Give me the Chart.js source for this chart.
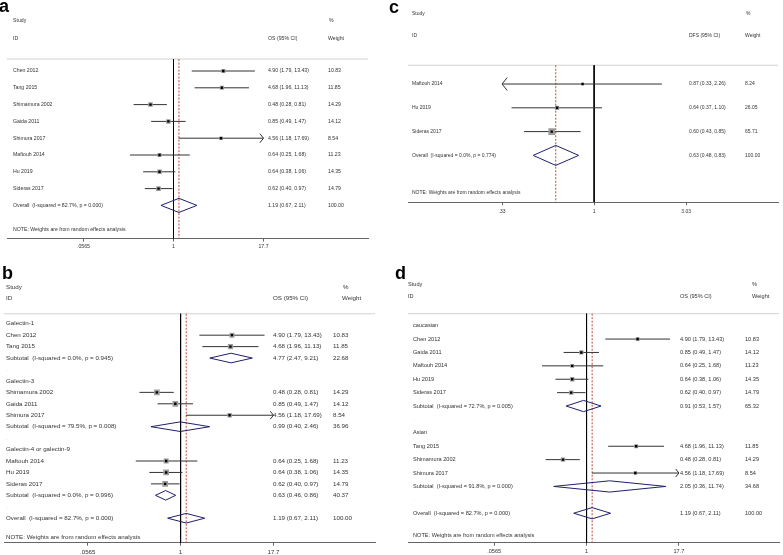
<!DOCTYPE html>
<html>
<head>
<meta charset="utf-8">
<title>Galectin forest plots</title>
<script src="https://cdn.jsdelivr.net/npm/chart.js@4.4.1/dist/chart.umd.min.js"></script>
<style>
  body { margin: 0; background: #fff; }
  #page { position: relative; width: 783px; height: 555px; overflow: hidden; background: #fff; }
  canvas { position: absolute; }
  .tag { position: absolute; font: bold 18px/18px "Liberation Sans", Arial, sans-serif; color: #000; }
</style>
</head>
<body>
<div id="page">
  <canvas id="forestA" width="390" height="256" style="left:0px;top:0px"></canvas>
  <canvas id="forestB" width="390" height="279" style="left:0px;top:276px"></canvas>
  <canvas id="forestC" width="393" height="222" style="left:390px;top:0px"></canvas>
  <canvas id="forestD" width="393" height="279" style="left:390px;top:276px"></canvas>
  <div class="tag" style="left:-1px;top:-3px">a</div>
  <div class="tag" style="left:2px;top:264px">b</div>
  <div class="tag" style="left:389px;top:-2px">c</div>
  <div class="tag" style="left:395px;top:264px">d</div>
</div>
<script>
// tick values on the (log) effect axis
const ticksOS = [0.0565, 1, 17.7];
const tickLabelsOS = ['.0565', '1', '17.7'];
const ticksDFS = [0.33, 1, 3.03];
const tickLabelsDFS = ['.33', '1', '3.03'];

// a: OS, all studies
const labelsA = ['Chen 2012', 'Tang 2015', 'Shimamura 2002', 'Gaida 2011', 'Shimura 2017', 'Maftouh 2014', 'Hu 2019', 'Sideras 2017',
  'Overall  (I-squared = 82.7%, p = 0.000)'];
const kindA = ['s', 's', 's', 's', 's', 's', 's', 's', 'o'];
const estA = [4.90, 4.68, 0.48, 0.85, 4.56, 0.64, 0.64, 0.62, 1.19];
const lowA = [1.79, 1.96, 0.28, 0.49, 1.18, 0.25, 0.38, 0.40, 0.67];
const highA = [13.43, 11.13, 0.81, 1.47, 17.69, 1.68, 1.06, 0.97, 2.11];
const weightA = [10.83, 11.85, 14.29, 14.12, 8.54, 11.23, 14.35, 14.79, 100.00];

// b: OS by galectin type
const labelsB = ['Galectin-1', 'Chen 2012', 'Tang 2015', 'Subtotal  (I-squared = 0.0%, p = 0.945)', '.',
  'Galectin-3', 'Shimamura 2002', 'Gaida 2011', 'Shimura 2017', 'Subtotal  (I-squared = 79.5%, p = 0.008)', '.',
  'Galectin-4 or galectin-9', 'Maftouh 2014', 'Hu 2019', 'Sideras 2017', 'Subtotal  (I-squared = 0.0%, p = 0.996)', '.',
  'Overall  (I-squared = 82.7%, p = 0.000)'];
const kindB = ['g', 's', 's', 't', 'b', 'g', 's', 's', 's', 't', 'b', 'g', 's', 's', 's', 't', 'b', 'o'];
const estB = [null, 4.90, 4.68, 4.77, null, null, 0.48, 0.85, 4.56, 0.99, null, null, 0.64, 0.64, 0.62, 0.63, null, 1.19];
const lowB = [null, 1.79, 1.96, 2.47, null, null, 0.28, 0.49, 1.18, 0.40, null, null, 0.25, 0.38, 0.40, 0.46, null, 0.67];
const highB = [null, 13.43, 11.13, 9.21, null, null, 0.81, 1.47, 17.69, 2.46, null, null, 1.68, 1.06, 0.97, 0.86, null, 2.11];
const weightB = [null, 10.83, 11.85, 22.68, null, null, 14.29, 14.12, 8.54, 36.96, null, null, 11.23, 14.35, 14.79, 40.37, null, 100.00];

// c: DFS
const labelsC = ['Maftouh 2014', 'Hu 2019', 'Sideras 2017', 'Overall  (I-squared = 0.0%, p = 0.774)'];
const kindC = ['s', 's', 's', 'o'];
const estC = [0.87, 0.64, 0.60, 0.63];
const lowC = [0.33, 0.37, 0.43, 0.48];
const highC = [2.26, 1.10, 0.85, 0.83];
const weightC = [8.24, 26.05, 65.71, 100.00];

// d: OS by ethnicity
const labelsD = ['caucasian', 'Chen 2012', 'Gaida 2011', 'Maftouh 2014', 'Hu 2019', 'Sideras 2017',
  'Subtotal  (I-squared = 72.7%, p = 0.005)', '.',
  'Asian', 'Tang 2015', 'Shimamura 2002', 'Shimura 2017', 'Subtotal  (I-squared = 91.8%, p = 0.000)', '.',
  'Overall  (I-squared = 82.7%, p = 0.000)'];
const kindD = ['g', 's', 's', 's', 's', 's', 't', 'b', 'g', 's', 's', 's', 't', 'b', 'o'];
const estD = [null, 4.90, 0.85, 0.64, 0.64, 0.62, 0.91, null, null, 4.68, 0.48, 4.56, 2.05, null, 1.19];
const lowD = [null, 1.79, 0.49, 0.25, 0.38, 0.40, 0.53, null, null, 1.96, 0.28, 1.18, 0.36, null, 0.67];
const highD = [null, 13.43, 1.47, 1.68, 1.06, 0.97, 1.57, null, null, 11.13, 0.81, 17.69, 11.74, null, 2.11];
const weightD = [null, 10.83, 14.12, 11.23, 14.35, 14.79, 65.32, null, null, 11.85, 14.29, 8.54, 34.68, null, 100.00];

// page geometry of each panel (absolute px), rows spaced by `step`
const geomA = { left: 0, top: 0, width: 390, height: 256, areaL: 7, areaR: 368, areaT: 5, areaB: 238.5, axisH: 15, tickPad: 2.4,
  one: 173.5, ppl: 31.33, row0: 71, step: 16.8, font: 5.2, hdrX: 13, colName: 13, colEst: 268, colW: 328, colPct: 329, colWeight: 328,
  hdrStudy: -2.98, hdrID: -1.96, rule: -0.71, note: 9.46, boxK: 1.2 };
const geomB = { left: 0, top: 276, width: 390, height: 279, areaL: 2, areaR: 375, areaT: 278, areaB: 542.7, axisH: 12, tickPad: 2.6,
  one: 179.5, ppl: 32.5, row0: 322, step: 11.53, font: 6.2, hdrX: 6, colName: 6, colEst: 273, colW: 333, colPct: 343, colWeight: 342,
  hdrStudy: -3.21, hdrID: -2.19, rule: -0.87, note: 18.65, boxK: 1.5 };
const geomC = { left: 390, top: 0, width: 393, height: 222, areaL: 408, areaR: 782, areaT: 3, areaB: 202.3, axisH: 14, tickPad: 3,
  one: 596, ppl: 83.9, row0: 83, step: 24, font: 5.0, hdrX: 412, colName: 412, colEst: 689, colW: 745, colPct: 746, colWeight: 745,
  hdrStudy: -2.96, hdrID: -2.04, rule: -0.79, note: 4.58, boxK: 0.82 };
const geomD = { left: 390, top: 276, width: 393, height: 279, areaL: 408, areaR: 782, areaT: 278, areaB: 542.7, axisH: 12, tickPad: 2.6,
  one: 588, ppl: 32.4, row0: 324, step: 13.5, font: 5.6, hdrX: 408, colName: 413, colEst: 680, colW: 745, colPct: 752, colWeight: 752,
  hdrStudy: -3.07, hdrID: -2.15, rule: -0.89, note: 15.63, boxK: 1.15 };

const FONT = '"Liberation Sans", Arial, sans-serif';
const fmt = v => v.toFixed(2);

// text columns + clipped-CI arrows
const forestText = {
  id: 'forestText',
  afterDatasetsDraw(chart, args, opts) {
    const { ctx } = chart;
    const { x, y } = chart.scales;
    const g = opts.geom, d = opts.data;
    const rowY = r => y.getPixelForValue(r);
    const colX = px => px - g.left;
    ctx.save();
    ctx.font = g.font + 'px ' + FONT;
    ctx.textBaseline = 'middle';
    ctx.textAlign = 'left';
    ctx.fillStyle = '#333';
    ctx.fillText('Study', colX(g.hdrX), rowY(g.hdrStudy));
    ctx.fillText('ID', colX(g.hdrX), rowY(g.hdrID));
    ctx.fillText('%', colX(g.colPct), rowY(g.hdrStudy));
    ctx.fillText('Weight', colX(g.colWeight), rowY(g.hdrID));
    ctx.fillText(d.measure + ' (95% CI)', colX(g.colEst), rowY(g.hdrID));
    d.labels.forEach((lab, i) => {
      const py = rowY(i);
      ctx.fillStyle = d.kind[i] === 'b' ? '#bbb' : '#333';
      ctx.fillText(lab, colX(g.colName), py);
      if (d.est[i] != null) {
        ctx.fillText(fmt(d.est[i]) + ' (' + fmt(d.low[i]) + ', ' + fmt(d.high[i]) + ')', colX(g.colEst), py);
        ctx.fillText(fmt(d.weight[i]), colX(g.colW), py);
      }
    });
    ctx.fillStyle = '#333';
    ctx.fillText('NOTE: Weights are from random effects analysis', colX(g.colName), rowY(g.note));

    // arrow heads where a CI runs to the end of the plotted range
    const tMin = d.ticks[0], tMax = d.ticks[d.ticks.length - 1];
    const hh = Math.max(4, g.step * 0.27), aw = hh * 0.8;
    ctx.strokeStyle = '#333';
    ctx.lineWidth = 1;
    d.kind.forEach((k, i) => {
      if (k !== 's') return;
      const py = rowY(i);
      if (d.high[i] >= tMax * 0.999) {
        const px = x.getPixelForValue(tMax);
        ctx.beginPath();
        ctx.moveTo(px - aw, py - hh); ctx.lineTo(px, py); ctx.lineTo(px - aw, py + hh);
        ctx.stroke();
      }
      if (d.low[i] <= tMin * 1.001) {
        const px = x.getPixelForValue(tMin);
        ctx.beginPath();
        ctx.moveTo(px + aw, py - hh); ctx.lineTo(px, py); ctx.lineTo(px + aw, py + hh);
        ctx.stroke();
      }
    });
    ctx.restore();
  }
};

function makeForest(id, g, d) {
  const xMin = Math.exp((g.areaL - g.one) / g.ppl);
  const xMax = Math.exp((g.areaR - g.one) / g.ppl);
  const yMin = (g.areaT - g.row0) / g.step;
  const yMax = (g.areaB - g.row0) / g.step;
  const overall = d.est[d.kind.indexOf('o')];

  const ci = [], boxes = [], boxR = [], dots = [], diamonds = [];
  d.kind.forEach((k, i) => {
    if (k === 's') {
      ci.push({ x: d.low[i], y: i }, { x: d.high[i], y: i }, { x: d.est[i], y: null });
      boxes.push({ x: d.est[i], y: i });
      boxR.push(g.boxK * Math.sqrt(d.weight[i]) / Math.SQRT2);
      dots.push({ x: d.est[i], y: i });
    } else if (k === 't' || k === 'o') {
      const h = 0.42;
      diamonds.push({ x: d.low[i], y: i }, { x: d.est[i], y: i - h }, { x: d.high[i], y: i },
        { x: d.est[i], y: i + h }, { x: d.low[i], y: i }, { x: d.est[i], y: null });
    }
  });

  return new Chart(document.getElementById(id), {
    type: 'scatter',
    data: {
      datasets: [
        { data: diamonds, showLine: true, borderColor: '#1f1f6e', borderWidth: 1, pointRadius: 0, fill: false, order: 1 },
        { data: dots, backgroundColor: '#000', borderWidth: 0, pointStyle: 'rect', pointRadius: 1.7, order: 2 },
        { data: boxes, backgroundColor: '#9c9c9c', borderWidth: 0, pointStyle: 'rect', pointRadius: boxR, order: 3 },
        { data: ci, showLine: true, borderColor: '#333', borderWidth: 1, pointRadius: 0, order: 4 },
        { data: [{ x: overall, y: g.rule }, { x: overall, y: yMax }], showLine: true, borderColor: '#c0483f',
          borderWidth: 1, borderDash: [2, 1.5], pointRadius: 0, order: 5 },
        { data: [{ x: 1, y: g.rule }, { x: 1, y: yMax }], showLine: true, borderColor: '#000', borderWidth: 1, pointRadius: 0, order: 6 },
        { data: [{ x: xMin, y: g.rule }, { x: xMax, y: g.rule }], showLine: true, borderColor: '#d2d2d2', borderWidth: 1, pointRadius: 0, order: 7 }
      ]
    },
    options: {
      responsive: false,
      animation: false,
      devicePixelRatio: 1,
      layout: { padding: { left: g.areaL - g.left, right: g.left + g.width - g.areaR, top: g.areaT - g.top,
        bottom: g.top + g.height - g.areaB - g.axisH } },
      plugins: { legend: { display: false }, tooltip: { enabled: false }, forestText: { geom: g, data: d } },
      scales: {
        x: {
          type: 'logarithmic', min: xMin, max: xMax, bounds: 'data',
          afterBuildTicks: s => { s.ticks = d.ticks.map(v => ({ value: v })); },
          afterFit: s => { s.height = g.axisH; },
          ticks: { autoSkip: false, maxRotation: 0, padding: g.tickPad, color: '#333', font: { family: FONT, size: g.font },
            callback: (v, i) => d.tickLabels[i] },
          grid: { drawOnChartArea: false, tickLength: 3, color: '#666' },
          border: { color: '#666', width: 1 }
        },
        y: { type: 'linear', reverse: true, min: yMin, max: yMax, display: false }
      }
    },
    plugins: [forestText]
  });
}

makeForest('forestA', geomA, { measure: 'OS', labels: labelsA, kind: kindA, est: estA, low: lowA, high: highA, weight: weightA, ticks: ticksOS, tickLabels: tickLabelsOS });
makeForest('forestB', geomB, { measure: 'OS', labels: labelsB, kind: kindB, est: estB, low: lowB, high: highB, weight: weightB, ticks: ticksOS, tickLabels: tickLabelsOS });
makeForest('forestC', geomC, { measure: 'DFS', labels: labelsC, kind: kindC, est: estC, low: lowC, high: highC, weight: weightC, ticks: ticksDFS, tickLabels: tickLabelsDFS });
makeForest('forestD', geomD, { measure: 'OS', labels: labelsD, kind: kindD, est: estD, low: lowD, high: highD, weight: weightD, ticks: ticksOS, tickLabels: tickLabelsOS });
</script>
</body>
</html>
